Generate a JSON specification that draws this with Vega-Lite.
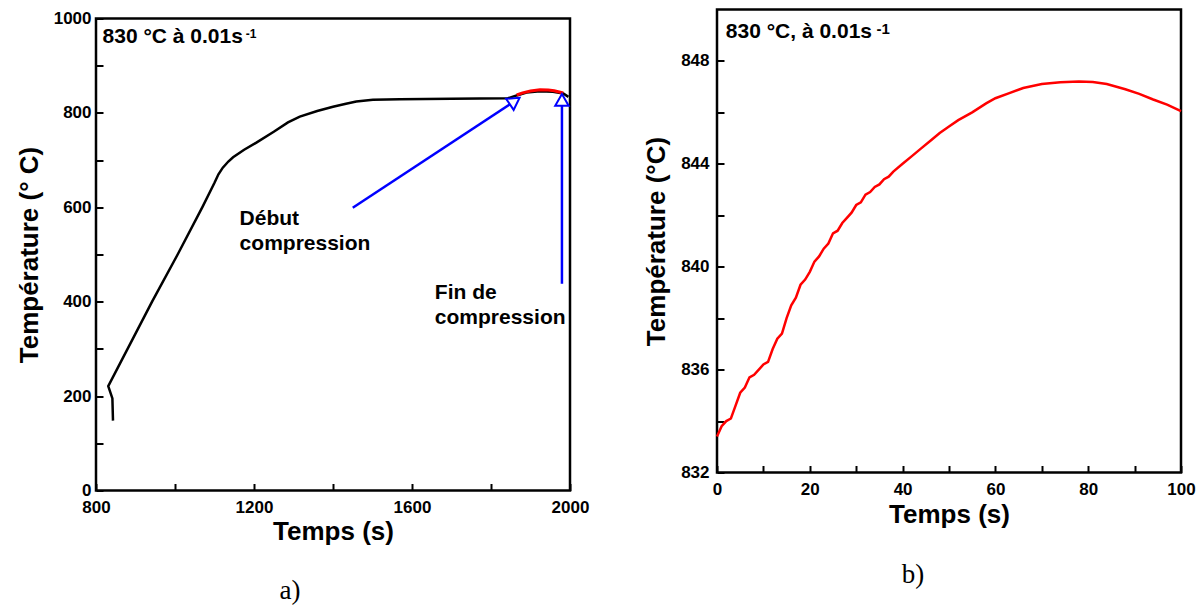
{
  "$schema": "https://vega.github.io/schema/vega-lite/v6.json",
  "background": "white",
  "padding": {"left": 14, "top": 6.5, "right": 0, "bottom": 0},
  "spacing": 51,
  "datasets": {
    "black": [
      {"i": 1, "x": 843, "y": 148}, {"i": 2, "x": 841.5, "y": 195}, {"i": 3, "x": 831, "y": 221},
      {"i": 4, "x": 942, "y": 400}, {"i": 5, "x": 1006, "y": 499}, {"i": 6, "x": 1069, "y": 600},
      {"i": 7, "x": 1100, "y": 652}, {"i": 8, "x": 1110, "y": 670}, {"i": 9, "x": 1121, "y": 684},
      {"i": 10, "x": 1135, "y": 697}, {"i": 11, "x": 1147, "y": 706}, {"i": 12, "x": 1175, "y": 722},
      {"i": 13, "x": 1206, "y": 737}, {"i": 14, "x": 1250, "y": 760}, {"i": 15, "x": 1286, "y": 780},
      {"i": 16, "x": 1316, "y": 792}, {"i": 17, "x": 1360, "y": 804}, {"i": 18, "x": 1400, "y": 813},
      {"i": 19, "x": 1430, "y": 819}, {"i": 20, "x": 1459, "y": 824}, {"i": 21, "x": 1501, "y": 828},
      {"i": 22, "x": 1569, "y": 829}, {"i": 23, "x": 1700, "y": 830}, {"i": 24, "x": 1843, "y": 831},
      {"i": 25, "x": 1865, "y": 837}, {"i": 26, "x": 1890, "y": 843}, {"i": 27, "x": 1924, "y": 846},
      {"i": 28, "x": 1957, "y": 845}, {"i": 29, "x": 1983, "y": 841}, {"i": 30, "x": 1996, "y": 834}
    ],
    "redL": [
      {"x": 1865, "y": 838}, {"x": 1880, "y": 842.5}, {"x": 1900, "y": 846.5}, {"x": 1924, "y": 849},
      {"x": 1945, "y": 848.5}, {"x": 1960, "y": 846.8}, {"x": 1983, "y": 842}
    ],
    "arrows": [
      {"x": 1450, "y": 599, "x2": 1860, "y2": 825},
      {"x": 1979.6, "y": 438, "x2": 1979.6, "y2": 827.5}
    ],
    "red": [
      {"t": 0, "T": 833.4}, {"t": 1, "T": 833.8}, {"t": 2, "T": 834.0}, {"t": 3, "T": 834.1},
      {"t": 4, "T": 834.6}, {"t": 5, "T": 835.1}, {"t": 6, "T": 835.3}, {"t": 7, "T": 835.7},
      {"t": 8, "T": 835.8}, {"t": 10, "T": 836.2}, {"t": 11, "T": 836.3}, {"t": 12, "T": 836.8},
      {"t": 13, "T": 837.2}, {"t": 14, "T": 837.4}, {"t": 15, "T": 838.0}, {"t": 16, "T": 838.5},
      {"t": 17, "T": 838.8}, {"t": 18, "T": 839.3}, {"t": 19, "T": 839.5}, {"t": 20, "T": 839.8},
      {"t": 21, "T": 840.2}, {"t": 22, "T": 840.4}, {"t": 23, "T": 840.7}, {"t": 24, "T": 840.9},
      {"t": 25, "T": 841.3}, {"t": 26, "T": 841.4}, {"t": 27, "T": 841.7}, {"t": 28, "T": 841.9},
      {"t": 29, "T": 842.1}, {"t": 30, "T": 842.4}, {"t": 31, "T": 842.5}, {"t": 32, "T": 842.8},
      {"t": 33, "T": 842.9}, {"t": 34, "T": 843.1}, {"t": 35, "T": 843.2}, {"t": 36, "T": 843.4},
      {"t": 37, "T": 843.5}, {"t": 38, "T": 843.7}, {"t": 40, "T": 844.0}, {"t": 42, "T": 844.3},
      {"t": 44, "T": 844.6}, {"t": 46, "T": 844.9}, {"t": 48, "T": 845.2}, {"t": 50, "T": 845.45},
      {"t": 52, "T": 845.7}, {"t": 55, "T": 846.0}, {"t": 58, "T": 846.35}, {"t": 60, "T": 846.55},
      {"t": 63, "T": 846.75}, {"t": 66, "T": 846.95}, {"t": 70, "T": 847.1}, {"t": 74, "T": 847.17},
      {"t": 78, "T": 847.2}, {"t": 81, "T": 847.18}, {"t": 84, "T": 847.1}, {"t": 88, "T": 846.9},
      {"t": 91, "T": 846.72}, {"t": 94, "T": 846.5}, {"t": 97, "T": 846.3}, {"t": 100, "T": 846.05}
    ]
  },
  "hconcat": [
    {
      "spacing": -6,
      "vconcat": [
        {
          "width": 474,
          "height": 1,
          "view": {"stroke": null},
          "data": {"values": [{"k": 0}]},
          "mark": {"type": "point", "opacity": 0},
          "encoding": {}
        },
        {
          "width": 474,
          "height": 472,
          "title": {"text": "a)", "orient": "bottom", "anchor": "middle", "dx": -43, "offset": 33, "font": "Liberation Serif", "fontSize": 27, "fontWeight": "normal", "color": "black"},
          "encoding": {
            "x": {"field": "x", "type": "quantitative", "scale": {"domain": [800, 2000], "nice": false, "zero": false},
              "axis": {"title": "Temps (s)", "format": "d", "values": [800, 1000, 1200, 1400, 1600, 1800, 2000], "labelExpr": "datum.value % 400 == 0 ? datum.label : ''", "labelFlush": false, "labelOverlap": false, "labelPadding": 16, "titlePadding": 3}},
            "y": {"field": "y", "type": "quantitative", "scale": {"domain": [0, 1000], "nice": false},
              "axis": {"title": "Température (° C)", "format": "d", "values": [0, 100, 200, 300, 400, 500, 600, 700, 800, 900, 1000], "labelExpr": "datum.value % 200 == 0 ? datum.label : ''", "labelOverlap": false, "labelPadding": 12, "titlePadding": 11}}
          },
          "layer": [
            {
              "data": {"name": "black"},
              "mark": {"type": "line", "color": "black", "strokeWidth": 2.5},
              "encoding": {"order": {"field": "i", "type": "quantitative"}}
            },
            {
              "data": {"name": "redL"},
              "mark": {"type": "line", "color": "#ff0000", "strokeWidth": 3},
              "encoding": {}
            },
            {
              "data": {"name": "arrows"},
              "mark": {"type": "rule", "color": "#0000ff", "strokeWidth": 2.5},
              "encoding": {"x2": {"field": "x2"}, "y2": {"field": "y2"}}
            },
            {
              "data": {"values": [{"x": 1860, "y": 825}]},
              "mark": {"type": "point", "shape": "triangle-up", "angle": 56, "size": 180, "filled": true, "fill": "white", "stroke": "#0000ff", "strokeWidth": 2, "opacity": 1}
            },
            {
              "data": {"values": [{"x": 1979.6, "y": 827.5}]},
              "mark": {"type": "point", "shape": "triangle-up", "angle": 0, "size": 180, "filled": true, "fill": "white", "stroke": "#0000ff", "strokeWidth": 2, "opacity": 1}
            },
            {
              "data": {"values": [
                {"x": 1163.6, "y": 599, "label": "Début\ncompression"},
                {"x": 1657.8, "y": 442, "label": "Fin de\ncompression"},
                {"x": 816.5, "y": 985, "label": "830 °C à 0.01s"}
              ]},
              "mark": {"type": "text", "align": "left", "baseline": "top", "font": "Liberation Sans", "fontSize": 21, "fontWeight": "bold", "color": "black", "lineBreak": "\n", "lineHeight": 25},
              "encoding": {"text": {"field": "label"}}
            },
            {
              "data": {"values": [{"x": 1179, "y": 958, "label": "-1"}]},
              "mark": {"type": "text", "align": "left", "baseline": "alphabetic", "font": "Liberation Sans", "fontSize": 12, "fontWeight": "bold", "color": "black"},
              "encoding": {"text": {"field": "label"}}
            }
          ]
        }
      ]
    },
    {
      "width": 464,
      "height": 463,
      "title": {"text": "b)", "orient": "bottom", "anchor": "middle", "dx": -36, "offset": 34.5, "font": "Liberation Serif", "fontSize": 27, "fontWeight": "normal", "color": "black"},
      "encoding": {
        "x": {"field": "t", "type": "quantitative", "scale": {"domain": [0, 100], "nice": false},
          "axis": {"title": "Temps (s)", "format": "d", "values": [0, 10, 20, 30, 40, 50, 60, 70, 80, 90, 100], "labelExpr": "datum.value % 20 == 0 ? datum.label : ''", "labelFlush": false, "labelOverlap": false, "labelPadding": 16, "titlePadding": 4}},
        "y": {"field": "T", "type": "quantitative", "scale": {"domain": [832, 850], "nice": false, "zero": false},
          "axis": {"title": "Température (°C)", "format": "d", "values": [832, 834, 836, 838, 840, 842, 844, 846, 848], "labelExpr": "(datum.value - 832) % 4 == 0 ? datum.label : ''", "labelOverlap": false, "labelPadding": 15, "titlePadding": 11}}
      },
      "layer": [
        {
          "data": {"name": "red"},
          "mark": {"type": "line", "color": "#ff0000", "strokeWidth": 2.5},
          "encoding": {}
        },
        {
          "data": {"values": [{"t": 1.9, "T": 849.55, "label": "830 °C, à 0.01s"}]},
          "mark": {"type": "text", "align": "left", "baseline": "top", "font": "Liberation Sans", "fontSize": 21, "fontWeight": "bold", "color": "black"},
          "encoding": {"text": {"field": "label"}}
        },
        {
          "data": {"values": [{"t": 34.4, "T": 849.05, "label": "-1"}]},
          "mark": {"type": "text", "align": "left", "baseline": "alphabetic", "font": "Liberation Sans", "fontSize": 15, "fontWeight": "bold", "color": "black"},
          "encoding": {"text": {"field": "label"}}
        }
      ]
    }
  ],
  "config": {
    "view": {"stroke": "black", "strokeWidth": 2.5},
    "axis": {"domain": false, "grid": false, "ticks": true, "tickColor": "black", "tickWidth": 2, "tickSize": -7,
      "labelFont": "Liberation Sans", "labelFontSize": 17, "labelFontWeight": "bold", "labelColor": "black",
      "titleFont": "Liberation Sans", "titleFontSize": 26, "titleFontWeight": "bold", "titleColor": "black"},
    "font": "Liberation Sans"
  }
}
